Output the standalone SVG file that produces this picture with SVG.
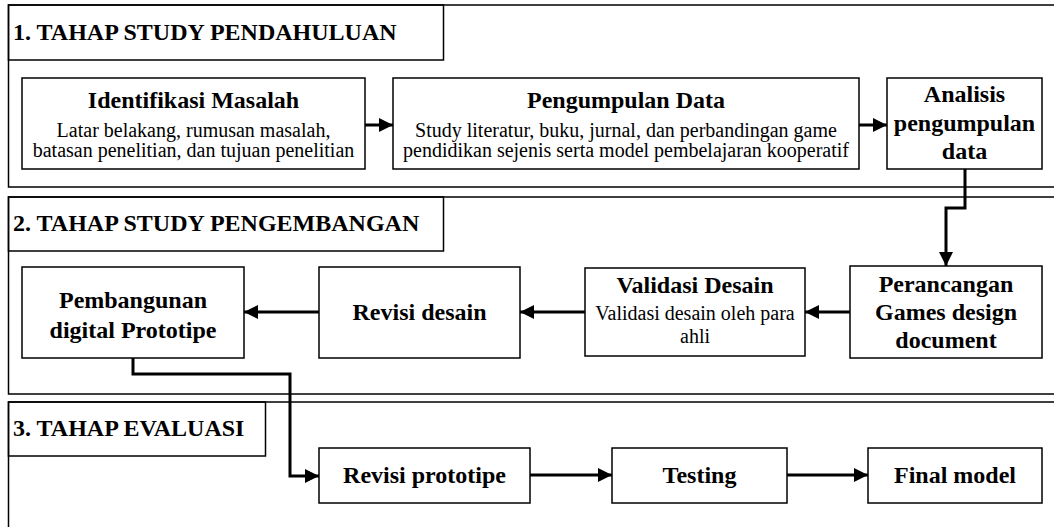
<svg xmlns="http://www.w3.org/2000/svg" width="1054" height="527" viewBox="0 0 1054 527">
<defs>
<style>
.sec{fill:none;stroke:#000;stroke-width:1.5}
.box{fill:#fff;stroke:#000;stroke-width:1.5}
.hdr{font-family:"Liberation Serif","Times New Roman",serif;font-weight:bold;font-size:24px;fill:#000}
.t{font-family:"Liberation Serif","Times New Roman",serif;font-weight:bold;font-size:24px;fill:#000;text-anchor:middle}
.s{font-family:"Liberation Serif","Times New Roman",serif;font-size:20px;fill:#000;text-anchor:middle}
.c{fill:none;stroke:#000;stroke-width:3;marker-end:url(#ah)}
</style>
<marker id="ah" markerUnits="userSpaceOnUse" markerWidth="14" markerHeight="14" refX="14" refY="7" orient="auto">
<path d="M0,0 L14,7 L0,14 z" fill="#000"/>
</marker>
</defs>
<rect width="1054" height="527" fill="#fff"/>
<g id="section1">
<rect class="sec" x="8.5" y="5" width="1060" height="182"/>
<rect class="sec" x="8.5" y="5" width="435" height="55"/>
<text class="hdr" x="13" y="40">1. TAHAP STUDY PENDAHULUAN</text>
</g>
<g id="section2">
<rect class="sec" x="8.5" y="197" width="1060" height="197"/>
<rect class="sec" x="8.5" y="197" width="435" height="54"/>
<text class="hdr" x="13" y="231">2. TAHAP STUDY PENGEMBANGAN</text>
</g>
<g id="section3">
<rect class="sec" x="8.5" y="402" width="1060" height="140"/>
<rect class="sec" x="8.5" y="402" width="257" height="54"/>
<text class="hdr" x="13" y="436">3. TAHAP EVALUASI</text>
</g>
<g id="connectors">
<path class="c" d="M365,125 L393,125"/>
<path class="c" d="M859,125 L887,125"/>
<path class="c" d="M965,169 L965,208 L946,208 L946,266"/>
<path class="c" d="M850,312 L805,312"/>
<path class="c" d="M585,312 L520,312"/>
<path class="c" d="M319,312 L244,312"/>
<path class="c" d="M133,358 L133,374 L290,374 L290,476 L319,476"/>
<path class="c" d="M530,475 L612,475"/>
<path class="c" d="M787,475 L868,475"/>
</g>
<g id="identifikasi">
<rect class="box" x="22" y="78" width="343" height="91"/>
<text class="t" x="193.5" y="108">Identifikasi Masalah</text>
<text class="s" x="193.5" y="137">Latar belakang, rumusan masalah,</text>
<text class="s" x="193.5" y="157">batasan penelitian, dan tujuan penelitian</text>
</g>
<g id="pengumpulan">
<rect class="box" x="393" y="78" width="466" height="91"/>
<text class="t" x="626" y="108">Pengumpulan Data</text>
<text class="s" x="626" y="137">Study literatur, buku, jurnal, dan perbandingan game</text>
<text class="s" x="626" y="157">pendidikan sejenis serta model pembelajaran kooperatif</text>
</g>
<g id="analisis">
<rect class="box" x="887" y="78" width="155" height="91"/>
<text class="t" x="964.5" y="102">Analisis</text>
<text class="t" x="964.5" y="131">pengumpulan</text>
<text class="t" x="964.5" y="159">data</text>
</g>
<g id="perancangan">
<rect class="box" x="850" y="266" width="192" height="92"/>
<text class="t" x="946" y="292">Perancangan</text>
<text class="t" x="946" y="320">Games design</text>
<text class="t" x="946" y="348">document</text>
</g>
<g id="validasi">
<rect class="box" x="585" y="268" width="220" height="88"/>
<text class="t" x="695" y="293">Validasi Desain</text>
<text class="s" x="695" y="320">Validasi desain oleh para</text>
<text class="s" x="695" y="343">ahli</text>
</g>
<g id="revisi-desain">
<rect class="box" x="319" y="267" width="201" height="91"/>
<text class="t" x="419.5" y="320">Revisi desain</text>
</g>
<g id="pembangunan">
<rect class="box" x="22" y="267" width="222" height="91"/>
<text class="t" x="133" y="308">Pembangunan</text>
<text class="t" x="133" y="338">digital Prototipe</text>
</g>
<g id="revisi-prototipe">
<rect class="box" x="319" y="448" width="211" height="55"/>
<text class="t" x="424.5" y="483">Revisi prototipe</text>
</g>
<g id="testing">
<rect class="box" x="612" y="448" width="175" height="55"/>
<text class="t" x="699.5" y="483">Testing</text>
</g>
<g id="final-model">
<rect class="box" x="868" y="448" width="174" height="55"/>
<text class="t" x="955" y="483">Final model</text>
</g>
</svg>
